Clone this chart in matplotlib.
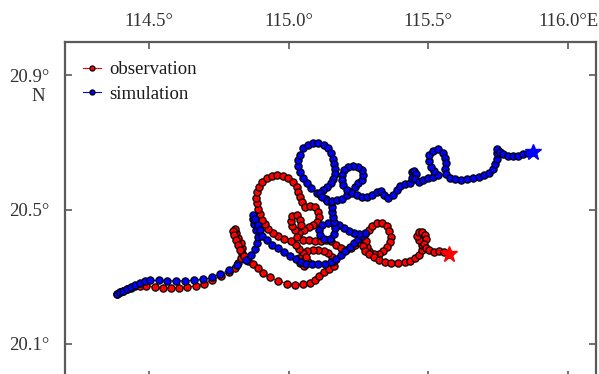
import matplotlib
matplotlib.use("Agg")
import matplotlib.pyplot as plt

plt.rcParams["font.family"] = ["Liberation Serif", "DejaVu Serif"]

# Drifter track (observation) and model track (simulation), degrees E / N
obs_lon = [114.386, 114.396, 114.407, 114.421, 114.436, 114.450, 114.468, 114.491, 114.522, 114.551,
           114.579, 114.607, 114.637, 114.667, 114.697, 114.727, 114.758, 114.786, 114.808, 114.820,
           114.828, 114.833, 114.835, 114.828, 114.820, 114.813, 114.808, 114.800, 114.803, 114.812,
           114.819, 114.826, 114.840, 114.856, 114.873, 114.891, 114.909, 114.933, 114.963, 114.993,
           115.023, 115.052, 115.076, 115.094, 115.110, 115.127, 115.146, 115.164, 115.164, 115.157,
           115.141, 115.125, 115.107, 115.087, 115.067, 115.050, 115.037, 115.041, 115.055, 115.069,
           115.064, 115.037, 115.025, 115.007, 114.983, 114.962, 114.944, 114.928, 114.915, 114.905,
           114.897, 114.891, 114.887, 114.885, 114.888, 114.895, 114.906, 114.923, 114.940, 114.960,
           114.980, 114.999, 115.016, 115.029, 115.035, 115.042, 115.047, 115.057, 115.075, 115.093,
           115.105, 115.109, 115.101, 115.089, 115.073, 115.055, 115.037, 115.023, 115.012, 115.007,
           115.014, 115.030, 115.041, 115.044, 115.030, 115.051, 115.073, 115.094, 115.116, 115.134,
           115.152, 115.168, 115.187, 115.207, 115.223, 115.239, 115.252, 115.263, 115.273, 115.286,
           115.300, 115.318, 115.336, 115.351, 115.360, 115.365, 115.362, 115.352, 115.339, 115.322,
           115.304, 115.289, 115.279, 115.277, 115.266, 115.272, 115.286, 115.304, 115.323, 115.345,
           115.368, 115.391, 115.415, 115.436, 115.454, 115.468, 115.476, 115.476, 115.468, 115.459,
           115.465, 115.478, 115.489, 115.493, 115.485, 115.490, 115.504, 115.522, 115.540, 115.556,
           115.574]
obs_lat = [20.250, 20.254, 20.259, 20.263, 20.268, 20.272, 20.274, 20.273, 20.270, 20.267,
           20.266, 20.267, 20.269, 20.273, 20.280, 20.289, 20.302, 20.315, 20.327, 20.342,
           20.357, 20.372, 20.387, 20.402, 20.415, 20.430, 20.443, 20.437, 20.424, 20.410,
           20.396, 20.379, 20.361, 20.348, 20.338, 20.325, 20.310, 20.298, 20.288, 20.280,
           20.277, 20.278, 20.282, 20.291, 20.303, 20.315, 20.324, 20.333, 20.346, 20.360,
           20.372, 20.378, 20.381, 20.381, 20.378, 20.370, 20.357, 20.342, 20.333, 20.343,
           20.358, 20.384, 20.396, 20.406, 20.413, 20.421, 20.431, 20.443, 20.457, 20.470,
           20.486, 20.503, 20.519, 20.535, 20.552, 20.568, 20.583, 20.594, 20.601, 20.602,
           20.600, 20.593, 20.582, 20.568, 20.553, 20.537, 20.522, 20.509, 20.512, 20.507,
           20.494, 20.477, 20.464, 20.455, 20.448, 20.439, 20.431, 20.440, 20.452, 20.467,
           20.480, 20.483, 20.470, 20.454, 20.419, 20.410, 20.409, 20.408, 20.406, 20.409,
           20.408, 20.396, 20.385, 20.381, 20.385, 20.394, 20.405, 20.416, 20.428, 20.440,
           20.452, 20.460, 20.459, 20.451, 20.436, 20.419, 20.403, 20.389, 20.378, 20.369,
           20.368, 20.376, 20.390, 20.406, 20.393, 20.378, 20.367, 20.360, 20.351, 20.344,
           20.341, 20.341, 20.343, 20.348, 20.355, 20.366, 20.379, 20.394, 20.409, 20.422,
           20.433, 20.433, 20.425, 20.412, 20.398, 20.387, 20.379, 20.375, 20.376, 20.375,
           20.369]

sim_lon = [114.386, 114.396, 114.407, 114.421, 114.436, 114.450, 114.468, 114.486, 114.505, 114.538,
           114.565, 114.597, 114.629, 114.661, 114.693, 114.726, 114.754, 114.786, 114.817, 114.849,
           114.867, 114.881, 114.888, 114.889, 114.883, 114.876, 114.871, 114.874, 114.881, 114.889,
           114.896, 114.906, 114.923, 114.942, 114.962, 114.983, 115.005, 115.025, 115.044, 115.064,
           115.084, 115.107, 115.130, 115.152, 115.170, 115.186, 115.202, 115.218, 115.234, 115.250,
           115.264, 115.275, 115.252, 115.234, 115.216, 115.200, 115.182, 115.162, 115.141, 115.121,
           115.110, 115.114, 115.128, 115.148, 115.162, 115.166, 115.162, 115.159, 115.157, 115.154,
           115.150, 115.134, 115.116, 115.100, 115.082, 115.066, 115.051, 115.041, 115.035, 115.035,
           115.041, 115.052, 115.069, 115.088, 115.107, 115.125, 115.141, 115.153, 115.160, 115.163,
           115.166, 115.166, 115.160, 115.150, 115.136, 115.122, 115.114, 115.119, 115.137, 115.155,
           115.173, 115.190, 115.208, 115.225, 115.238, 115.249, 115.262, 115.267, 115.263, 115.249,
           115.231, 115.214, 115.198, 115.190, 115.190, 115.196, 115.208, 115.226, 115.244, 115.262,
           115.279, 115.297, 115.315, 115.329, 115.340, 115.357, 115.374, 115.387, 115.400, 115.417,
           115.433, 115.442, 115.440, 115.449, 115.456, 115.451, 115.465, 115.482, 115.500, 115.518,
           115.533, 115.522, 115.508, 115.501, 115.503, 115.517, 115.536, 115.553, 115.560, 115.562,
           115.561, 115.562, 115.576, 115.596, 115.617, 115.639, 115.660, 115.681, 115.701, 115.717,
           115.730, 115.739, 115.745, 115.747, 115.744, 115.755, 115.769, 115.786, 115.804, 115.822,
           115.840, 115.855, 115.875]
sim_lat = [20.250, 20.254, 20.259, 20.263, 20.269, 20.275, 20.282, 20.287, 20.289, 20.289,
           20.288, 20.288, 20.288, 20.290, 20.292, 20.298, 20.307, 20.320, 20.334, 20.349,
           20.366, 20.384, 20.402, 20.419, 20.439, 20.457, 20.473, 20.483, 20.471, 20.455,
           20.439, 20.422, 20.409, 20.396, 20.385, 20.375, 20.363, 20.352, 20.343, 20.338,
           20.337, 20.337, 20.338, 20.345, 20.354, 20.366, 20.378, 20.390, 20.402, 20.412,
           20.422, 20.431, 20.428, 20.430, 20.437, 20.446, 20.454, 20.458, 20.460, 20.454,
           20.440, 20.424, 20.412, 20.413, 20.427, 20.445, 20.464, 20.479, 20.494, 20.509,
           20.524, 20.531, 20.540, 20.550, 20.564, 20.579, 20.595, 20.611, 20.629, 20.647,
           20.663, 20.683, 20.693, 20.697, 20.697, 20.692, 20.682, 20.668, 20.652, 20.637,
           20.622, 20.607, 20.592, 20.579, 20.568, 20.559, 20.550, 20.537, 20.527, 20.527,
           20.528, 20.533, 20.543, 20.553, 20.567, 20.578, 20.589, 20.604, 20.619, 20.628,
           20.631, 20.626, 20.617, 20.602, 20.588, 20.573, 20.558, 20.548, 20.543, 20.538,
           20.538, 20.543, 20.553, 20.556, 20.543, 20.534, 20.543, 20.558, 20.571, 20.575,
           20.580, 20.595, 20.611, 20.616, 20.605, 20.591, 20.582, 20.588, 20.593, 20.597,
           20.604, 20.616, 20.628, 20.646, 20.663, 20.675, 20.679, 20.669, 20.654, 20.638,
           20.622, 20.605, 20.595, 20.590, 20.588, 20.590, 20.593, 20.597, 20.602, 20.610,
           20.622, 20.637, 20.652, 20.667, 20.680, 20.671, 20.664, 20.660, 20.660, 20.661,
           20.665, 20.669, 20.672]

xticks = [114.5, 115.0, 115.5, 116.0]
xticklabels = ["114.5°", "115.0°", "115.5°", "116.0°E"]
yticks = [20.1, 20.5, 20.9]
yticklabels = ["20.1°", "20.5°", "20.9°"]

W, H = 599, 374
fig = plt.figure(figsize=(W / 100, H / 100), dpi=100)
ax = fig.add_axes([65 / W, -3.6 / H, 531 / W, 336 / H])
ax.set_xlim(114.2, 116.1)
ax.set_ylim(20.0, 21.0)

mk = dict(marker="o", markersize=5.2, markeredgecolor="black", markeredgewidth=0.9,
          linewidth=0.8)
ax.plot(obs_lon, obs_lat, color="red", markerfacecolor="red", label="observation", **mk)
ax.plot(sim_lon, sim_lat, color="blue", markerfacecolor="blue", label="simulation", **mk)
ax.plot(obs_lon[-1], obs_lat[-1], marker="*", color="red", markersize=12, linestyle="none")
ax.plot(sim_lon[-1], sim_lat[-1], marker="*", color="blue", markersize=12, linestyle="none")

spine_col = "#5a5a5a"
for s in ax.spines.values():
    s.set_color(spine_col)
    s.set_linewidth(1.6)

ax.set_xticks(xticks)
ax.set_xticklabels(xticklabels)
ax.set_yticks(yticks)
ax.set_yticklabels(yticklabels)
ax.tick_params(axis="both", direction="in", length=5, width=1.2, color=spine_col,
               labelsize=13.5, labelcolor="#333333", top=True, right=True, bottom=True, left=True)
ax.tick_params(axis="x", labeltop=True, labelbottom=False, pad=8)
ax.tick_params(axis="y", pad=11)

ax.annotate("N", xy=(0, 20.9), xycoords=("axes fraction", "data"),
            xytext=(-26.5, -21.5), textcoords="offset pixels",
            ha="center", va="center", fontsize=13.5, color="#333333")

leg = ax.legend(loc="upper left", bbox_to_anchor=(0.034, 0.942), frameon=False,
                borderaxespad=0, borderpad=0, handlelength=0.95, handletextpad=0.45,
                labelspacing=0.40, markerscale=0.7, fontsize=13.5)
for t in leg.get_texts():
    t.set_color("#1a1a1a")

fig.savefig("out.png", dpi=100)
